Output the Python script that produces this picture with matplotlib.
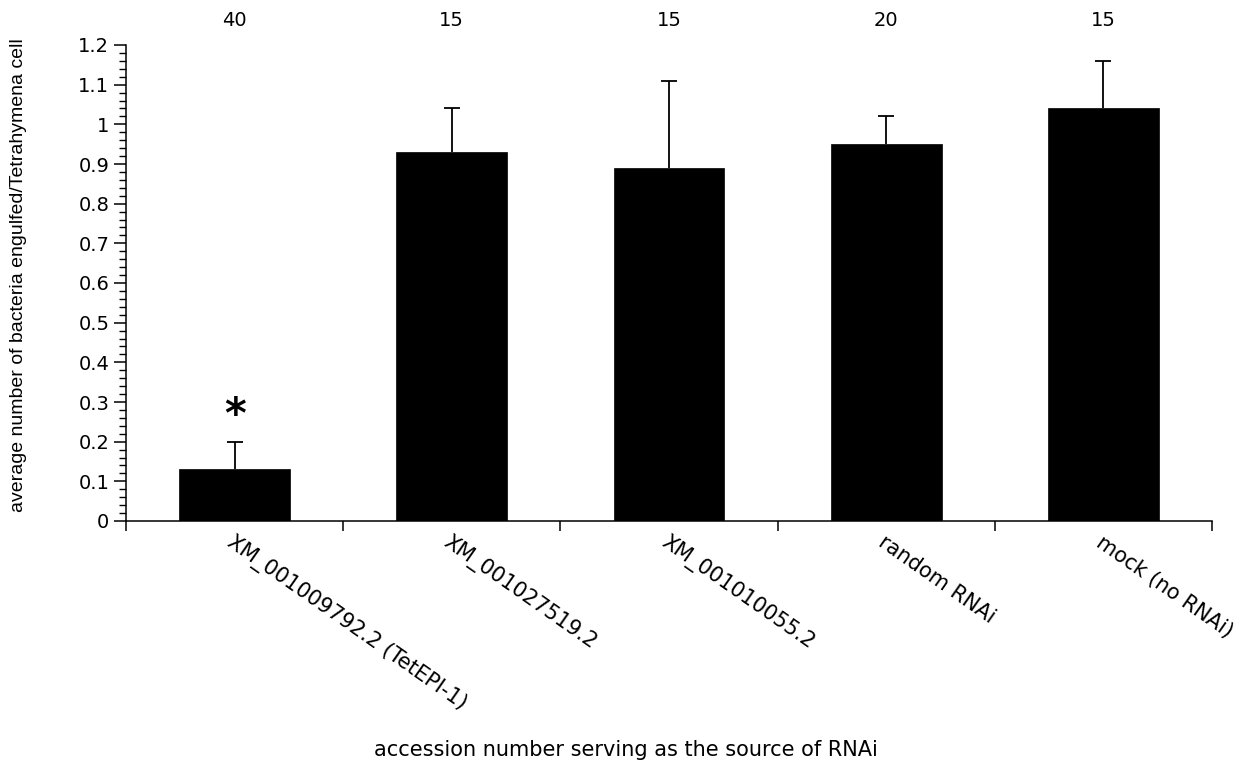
"""Bar chart: phagocytosis of bacteria per Tetrahymena cell after RNAi.

Output: out.png
"""

import matplotlib
matplotlib.use("Agg")
import matplotlib.pyplot as plt
import numpy as np
from matplotlib.ticker import MultipleLocator

INK = "#000000"

# Data
categories = ["XM_001009792.2 (TetEPI-1)", "XM_001027519.2",
              "XM_001010055.2", "random RNAi", "mock (no RNAi)"]
means = [0.13, 0.93, 0.89, 0.95, 1.04]
err_upper = [0.07, 0.11, 0.22, 0.07, 0.12]
n_cells = [40, 15, 15, 20, 15]
significant = [True, False, False, False, False]

plt.rcParams["font.family"] = ["DejaVu Sans"]

fig = plt.figure(figsize=(12.48, 7.71), dpi=100)
fig.patch.set_facecolor("#ffffff")
ax = fig.add_axes([126 / 1248, 1 - 521 / 771, (1212 - 126) / 1248, (521 - 45) / 771])

x = list(range(len(categories)))
# upper error bars only, drawn behind the bars
eb = ax.errorbar(x, means, yerr=[[0] * len(means), err_upper], fmt="none",
                 ecolor=INK, elinewidth=1.3, capsize=6, capthick=1.3, zorder=1)
for cap in eb[1]:
    if np.allclose(cap.get_ydata(), means):
        cap.set_visible(False)
ax.bar(x, means, width=0.51, color=INK, edgecolor=INK, linewidth=0.5, zorder=2)

ax.set_xlim(-0.5, len(categories) - 0.5)
ax.set_ylim(0, 1.2)

# Spines
for side in ("top", "right"):
    ax.spines[side].set_visible(False)
for side in ("left", "bottom"):
    ax.spines[side].set_linewidth(1.1)

# Y axis: major every 0.1, minor every 0.02
ax.yaxis.set_major_locator(MultipleLocator(0.1))
ax.yaxis.set_minor_locator(MultipleLocator(0.02))
ax.set_yticklabels([f"{v:g}" for v in [round(t, 1) for t in ax.get_yticks()]])
ax.tick_params(axis="y", which="major", direction="out", length=9, width=1.1,
               pad=3, labelsize=14)
ax.tick_params(axis="y", which="minor", direction="out", length=5, width=1.0)

# X axis: labels at bar centres, tick marks at category boundaries
ax.set_xticks(x)
ax.set_xticklabels(categories, rotation=-35, ha="left", va="top",
                   rotation_mode="anchor", fontsize=15)
ax.set_xticks([i - 0.5 for i in range(len(categories) + 1)], minor=True)
ax.tick_params(axis="x", which="major", length=0, pad=8)
ax.tick_params(axis="x", which="minor", direction="out", length=7, width=1.1)

# n above each column
for xi, n in zip(x, n_cells):
    ax.annotate(str(n), xy=(xi, 1.2), xytext=(0, 18), textcoords="offset points",
                ha="center", va="center", fontsize=14, color=INK,
                annotation_clip=False)

# Significance star
for xi, m, e, sig in zip(x, means, err_upper, significant):
    if sig:
        ax.annotate("*", xy=(xi, m + e), xytext=(0, 3), textcoords="offset points",
                    ha="center", va="bottom", fontsize=30, fontweight="bold",
                    color=INK)

# Axis titles
fig.text(19 / 1248, 1 - 275 / 771,
         "average number of bacteria engulfed/Tetrahymena cell",
         rotation=90, ha="center", va="center", fontsize=14,
         family=["Liberation Sans", "DejaVu Sans"], color=INK)
fig.text(626 / 1248, 1 - 750 / 771,
         "accession number serving as the source of RNAi",
         ha="center", va="center", fontsize=15, color=INK)

fig.savefig("out.png", dpi=100, facecolor="#ffffff")
plt.close(fig)
